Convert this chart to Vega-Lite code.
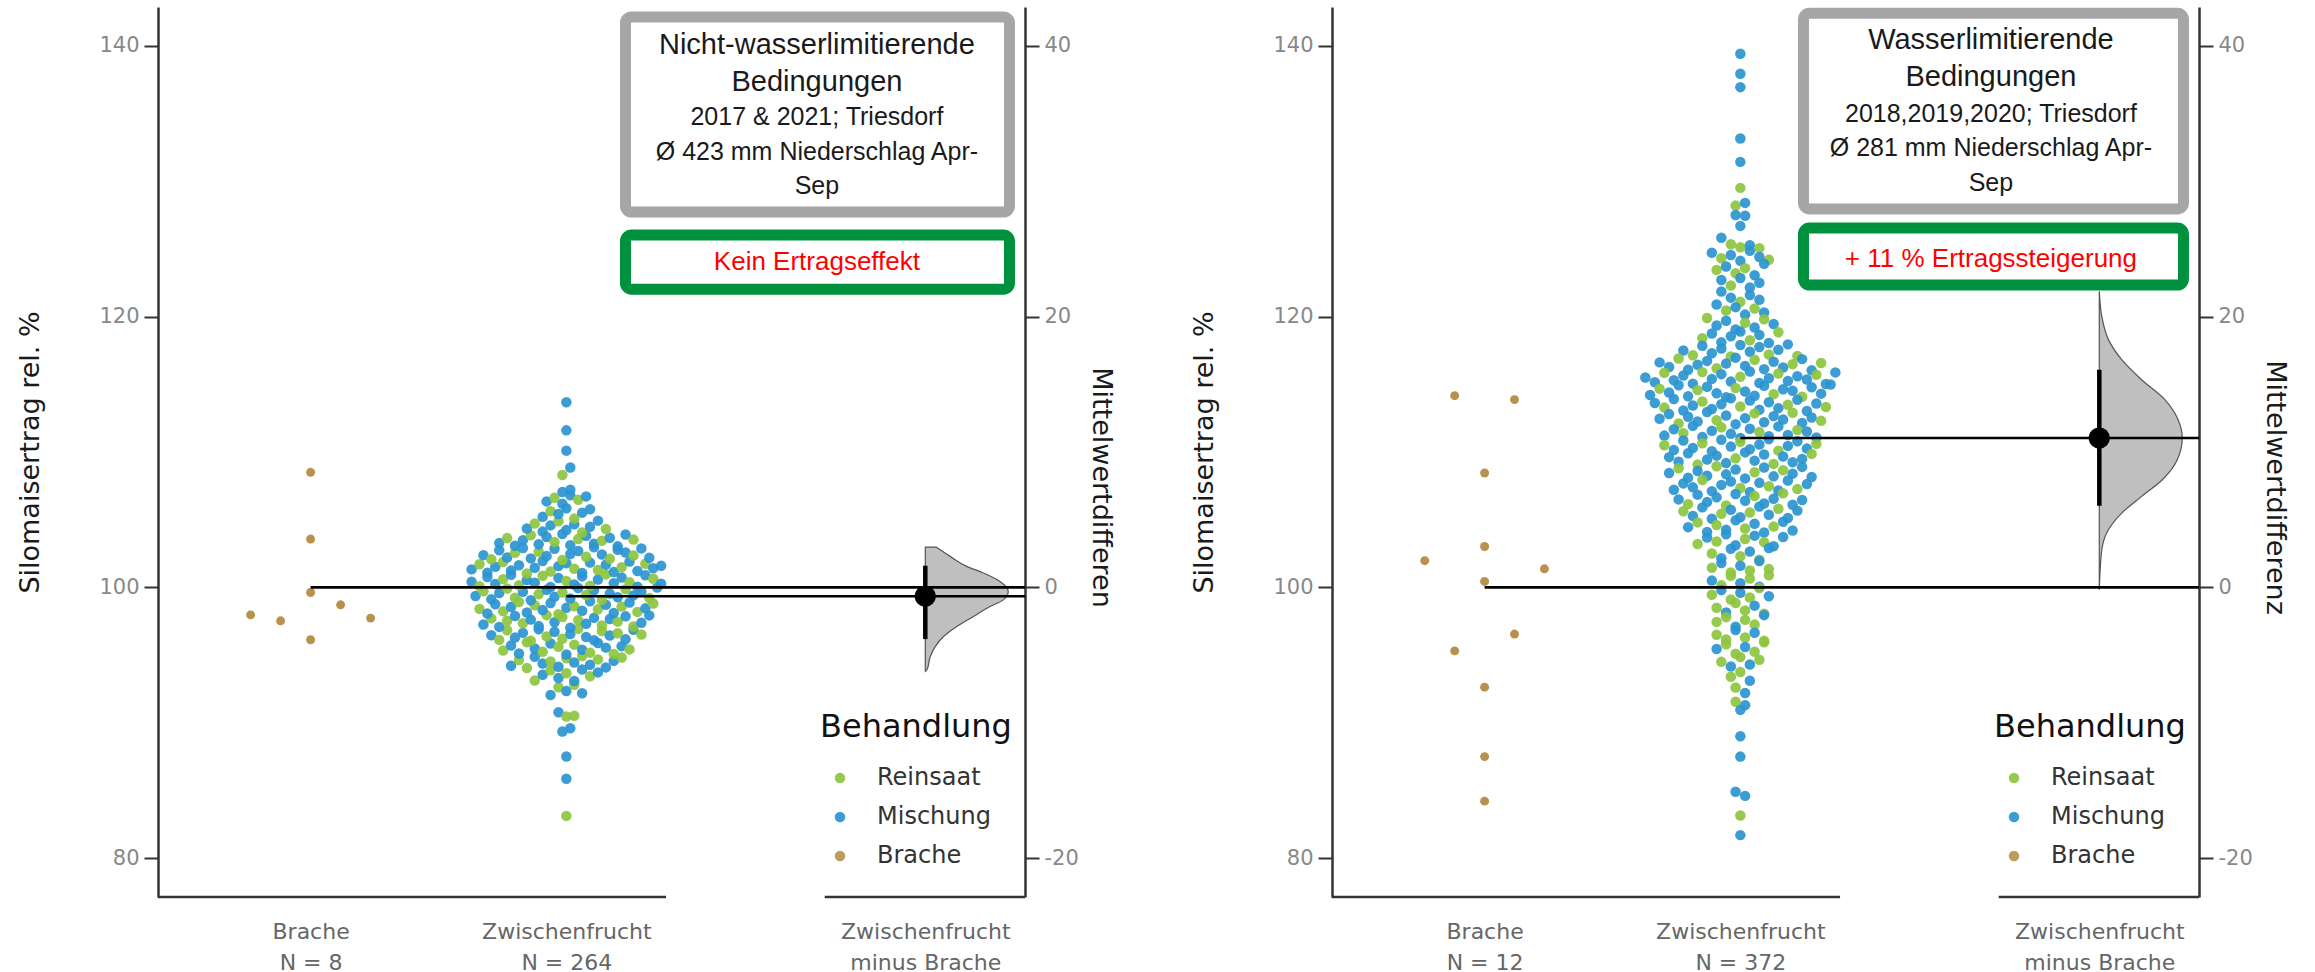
{
"$schema": "https://vega.github.io/schema/vega-lite/v6.json",
"padding": {"left": 16, "top": 7, "right": 20, "bottom": 0},
"background": "white",
"spacing": 75,
"config": {
 "view": {"stroke": null},
 "font": "DejaVu Sans",
 "axis": {"grid": false, "domainColor": "#333333", "domainWidth": 2.5, "tickColor": "#333333", "tickWidth": 2, "tickSize": 14, "labelColor": "#888888", "labelFont": "DejaVu Sans", "labelFontSize": 21, "titleFont": "DejaVu Sans", "titleFontSize": 27, "titleFontWeight": "normal", "titleColor": "#1a1a1a"},
 "axisLeft": {"labelPadding": 5, "titlePadding": 54},
 "axisRight": {"labelPadding": 5, "titlePadding": 8, "titleY": 480},
 "axisBottom": {"domain": false, "ticks": false, "labelColor": "#666666", "labelFontSize": 22, "labelLineHeight": 31, "labelPadding": 24, "labelFlush": false, "labelOverlap": false},
 "legend": {"titleFont": "DejaVu Sans", "titleFontSize": 32, "titleFontWeight": "normal", "titleColor": "#111111", "titlePadding": 22, "titleLimit": 500, "labelLimit": 400, "labelFont": "DejaVu Sans", "labelFontSize": 24, "labelColor": "#333333", "symbolType": "circle", "symbolSize": 110, "symbolStrokeWidth": 0, "symbolOffset": 8, "labelOffset": 25, "rowPadding": 15, "padding": 0}
},
"datasets": {
"kennwerte": [
 {"p": "L", "bmw": 99.97, "zmw": 99.33, "diff": -0.66, "ci_lo": -3.82, "ci_hi": 1.6, "titel": ["Nicht-wasserlimitierende", "Bedingungen"], "info": ["2017 & 2021; Triesdorf", "Ø 423 mm Niederschlag Apr-", "Sep"], "effekt": "Kein Ertragseffekt"},
 {"p": "R", "bmw": 99.96, "zmw": 110.99, "diff": 11.03, "ci_lo": 6.03, "ci_hi": 16.08, "titel": ["Wasserlimitierende", "Bedingungen"], "info": ["2018,2019,2020; Triesdorf", "Ø 281 mm Niederschlag Apr-", "Sep"], "effekt": "+ 11 % Ertragssteigerung"}
],
"dichte": [
 {"p": "L", "diff": -6.2, "d": 0.0}, {"p": "L", "diff": -6.09, "d": 0.02}, {"p": "L", "diff": -5.11, "d": 0.06}, {"p": "L", "diff": -4.37, "d": 0.12}, {"p": "L", "diff": -3.63, "d": 0.22}, {"p": "L", "diff": -2.89, "d": 0.38}, {"p": "L", "diff": -2.15, "d": 0.58}, {"p": "L", "diff": -1.41, "d": 0.78}, {"p": "L", "diff": -0.92, "d": 0.94}, {"p": "L", "diff": -0.3, "d": 1.0}, {"p": "L", "diff": 0.44, "d": 0.9}, {"p": "L", "diff": 1.06, "d": 0.7}, {"p": "L", "diff": 1.55, "d": 0.5}, {"p": "L", "diff": 2.29, "d": 0.3}, {"p": "L", "diff": 2.98, "d": 0.13},
 {"p": "R", "diff": -0.18, "d": 0.0}, {"p": "R", "diff": 2.78, "d": 0.03}, {"p": "R", "diff": 4.26, "d": 0.11}, {"p": "R", "diff": 5.49, "d": 0.27}, {"p": "R", "diff": 6.72, "d": 0.51}, {"p": "R", "diff": 7.95, "d": 0.76}, {"p": "R", "diff": 9.43, "d": 0.94}, {"p": "R", "diff": 11.03, "d": 1.0}, {"p": "R", "diff": 12.39, "d": 0.95}, {"p": "R", "diff": 13.87, "d": 0.79}, {"p": "R", "diff": 15.34, "d": 0.51}, {"p": "R", "diff": 16.82, "d": 0.27}, {"p": "R", "diff": 18.3, "d": 0.11}, {"p": "R", "diff": 20.02, "d": 0.03}, {"p": "R", "diff": 21.87, "d": 0.0}
],
"punkte": [
 {"p":"L","b":"Brache","y":96.13},{"p":"L","b":"Brache","y":97.97},{"p":"L","b":"Brache","y":97.53},{"p":"L","b":"Brache","y":99.62},{"p":"L","b":"Brache","y":98.71},{"p":"L","b":"Brache","y":97.73},{"p":"L","b":"Brache","y":103.57},{"p":"L","b":"Brache","y":108.5},
 {"p":"R","b":"Brache","y":114.16},{"p":"R","b":"Brache","y":113.87},{"p":"R","b":"Brache","y":108.45},{"p":"R","b":"Brache","y":103.02},{"p":"R","b":"Brache","y":101.97},{"p":"R","b":"Brache","y":100.44},{"p":"R","b":"Brache","y":101.37},{"p":"R","b":"Brache","y":95.31},{"p":"R","b":"Brache","y":96.55},{"p":"R","b":"Brache","y":92.63},{"p":"R","b":"Brache","y":87.5},{"p":"R","b":"Brache","y":84.21},
 {"p":"L","b":"Mischung","y":92.05},{"p":"L","b":"Reinsaat","y":92.62},{"p":"L","b":"Mischung","y":92.34},{"p":"L","b":"Reinsaat","y":92.81},{"p":"L","b":"Mischung","y":92.18},
 {"p":"L","b":"Reinsaat","y":93.12},{"p":"L","b":"Mischung","y":93.55},{"p":"L","b":"Reinsaat","y":93.87},{"p":"L","b":"Mischung","y":93.31},{"p":"L","b":"Reinsaat","y":93.66},{"p":"L","b":"Mischung","y":93.08},{"p":"L","b":"Mischung","y":93.93},{"p":"L","b":"Reinsaat","y":93.44},{"p":"L","b":"Mischung","y":93.72},
 {"p":"L","b":"Mischung","y":94.21},{"p":"L","b":"Reinsaat","y":94.63},{"p":"L","b":"Reinsaat","y":94.05},{"p":"L","b":"Mischung","y":94.88},{"p":"L","b":"Mischung","y":94.37},{"p":"L","b":"Reinsaat","y":94.52},{"p":"L","b":"Mischung","y":94.14},{"p":"L","b":"Reinsaat","y":94.76},{"p":"L","b":"Mischung","y":94.45},{"p":"L","b":"Reinsaat","y":94.93},{"p":"L","b":"Mischung","y":94.29},{"p":"L","b":"Reinsaat","y":94.68},{"p":"L","b":"Mischung","y":94.09},{"p":"L","b":"Mischung","y":94.57},{"p":"L","b":"Reinsaat","y":94.82},
 {"p":"L","b":"Reinsaat","y":95.33},{"p":"L","b":"Mischung","y":95.71},{"p":"L","b":"Mischung","y":95.12},{"p":"L","b":"Reinsaat","y":95.94},{"p":"L","b":"Mischung","y":95.48},{"p":"L","b":"Reinsaat","y":95.25},{"p":"L","b":"Mischung","y":95.86},{"p":"L","b":"Reinsaat","y":95.61},{"p":"L","b":"Mischung","y":95.04},{"p":"L","b":"Reinsaat","y":95.77},{"p":"L","b":"Mischung","y":95.39},{"p":"L","b":"Reinsaat","y":95.18},{"p":"L","b":"Mischung","y":95.89},{"p":"L","b":"Mischung","y":95.55},{"p":"L","b":"Reinsaat","y":95.08},{"p":"L","b":"Mischung","y":95.66},{"p":"L","b":"Reinsaat","y":95.42},
 {"p":"L","b":"Mischung","y":96.47},{"p":"L","b":"Reinsaat","y":96.12},{"p":"L","b":"Reinsaat","y":96.83},{"p":"L","b":"Mischung","y":96.29},{"p":"L","b":"Mischung","y":96.64},{"p":"L","b":"Reinsaat","y":96.05},{"p":"L","b":"Mischung","y":96.91},{"p":"L","b":"Reinsaat","y":96.38},{"p":"L","b":"Mischung","y":96.72},{"p":"L","b":"Reinsaat","y":96.21},{"p":"L","b":"Mischung","y":96.56},{"p":"L","b":"Reinsaat","y":96.95},{"p":"L","b":"Mischung","y":96.33},{"p":"L","b":"Mischung","y":96.09},{"p":"L","b":"Reinsaat","y":96.78},{"p":"L","b":"Mischung","y":96.44},{"p":"L","b":"Reinsaat","y":96.61},{"p":"L","b":"Mischung","y":96.16},{"p":"L","b":"Mischung","y":96.87},{"p":"L","b":"Reinsaat","y":96.52},
 {"p":"L","b":"Mischung","y":97.26},{"p":"L","b":"Reinsaat","y":97.71},{"p":"L","b":"Mischung","y":97.08},{"p":"L","b":"Reinsaat","y":97.53},{"p":"L","b":"Mischung","y":97.89},{"p":"L","b":"Reinsaat","y":97.35},{"p":"L","b":"Mischung","y":97.62},{"p":"L","b":"Mischung","y":97.14},{"p":"L","b":"Reinsaat","y":97.95},{"p":"L","b":"Mischung","y":97.43},{"p":"L","b":"Reinsaat","y":97.81},{"p":"L","b":"Mischung","y":97.02},{"p":"L","b":"Reinsaat","y":97.58},{"p":"L","b":"Mischung","y":97.31},{"p":"L","b":"Mischung","y":97.75},{"p":"L","b":"Reinsaat","y":97.19},{"p":"L","b":"Mischung","y":97.67},{"p":"L","b":"Reinsaat","y":97.47},{"p":"L","b":"Mischung","y":97.86},{"p":"L","b":"Reinsaat","y":97.11},{"p":"L","b":"Mischung","y":97.39},{"p":"L","b":"Mischung","y":97.93},
 {"p":"L","b":"Reinsaat","y":98.41},{"p":"L","b":"Mischung","y":98.07},{"p":"L","b":"Mischung","y":98.76},{"p":"L","b":"Reinsaat","y":98.23},{"p":"L","b":"Mischung","y":98.55},{"p":"L","b":"Reinsaat","y":98.92},{"p":"L","b":"Mischung","y":98.14},{"p":"L","b":"Reinsaat","y":98.68},{"p":"L","b":"Mischung","y":98.33},{"p":"L","b":"Mischung","y":98.84},{"p":"L","b":"Reinsaat","y":98.02},{"p":"L","b":"Mischung","y":98.49},{"p":"L","b":"Reinsaat","y":98.61},{"p":"L","b":"Mischung","y":98.27},{"p":"L","b":"Mischung","y":98.97},{"p":"L","b":"Reinsaat","y":98.38},{"p":"L","b":"Mischung","y":98.72},{"p":"L","b":"Mischung","y":98.11},{"p":"L","b":"Reinsaat","y":98.58},{"p":"L","b":"Mischung","y":98.88},{"p":"L","b":"Reinsaat","y":98.19},{"p":"L","b":"Mischung","y":98.45},{"p":"L","b":"Reinsaat","y":98.81},
 {"p":"L","b":"Mischung","y":99.36},{"p":"L","b":"Reinsaat","y":99.72},{"p":"L","b":"Mischung","y":99.13},{"p":"L","b":"Mischung","y":99.58},{"p":"L","b":"Reinsaat","y":99.91},{"p":"L","b":"Reinsaat","y":99.24},{"p":"L","b":"Mischung","y":99.67},{"p":"L","b":"Mischung","y":99.05},{"p":"L","b":"Reinsaat","y":99.49},{"p":"L","b":"Mischung","y":99.83},{"p":"L","b":"Mischung","y":99.31},{"p":"L","b":"Reinsaat","y":99.62},{"p":"L","b":"Mischung","y":99.17},{"p":"L","b":"Mischung","y":99.95},{"p":"L","b":"Reinsaat","y":99.44},{"p":"L","b":"Mischung","y":99.78},{"p":"L","b":"Reinsaat","y":99.09},{"p":"L","b":"Mischung","y":99.54},{"p":"L","b":"Mischung","y":99.27},{"p":"L","b":"Reinsaat","y":99.86},{"p":"L","b":"Mischung","y":99.41},{"p":"L","b":"Mischung","y":99.69},{"p":"L","b":"Reinsaat","y":99.21},{"p":"L","b":"Mischung","y":99.99},
 {"p":"L","b":"Mischung","y":100.42},{"p":"L","b":"Reinsaat","y":100.08},{"p":"L","b":"Mischung","y":100.77},{"p":"L","b":"Mischung","y":100.25},{"p":"L","b":"Reinsaat","y":100.61},{"p":"L","b":"Mischung","y":100.93},{"p":"L","b":"Reinsaat","y":100.15},{"p":"L","b":"Mischung","y":100.54},{"p":"L","b":"Mischung","y":100.35},{"p":"L","b":"Reinsaat","y":100.86},{"p":"L","b":"Mischung","y":100.03},{"p":"L","b":"Mischung","y":100.69},{"p":"L","b":"Reinsaat","y":100.47},{"p":"L","b":"Mischung","y":100.21},{"p":"L","b":"Mischung","y":100.81},{"p":"L","b":"Reinsaat","y":100.12},{"p":"L","b":"Mischung","y":100.58},{"p":"L","b":"Reinsaat","y":100.96},{"p":"L","b":"Mischung","y":100.31},{"p":"L","b":"Mischung","y":100.73},{"p":"L","b":"Reinsaat","y":100.38},{"p":"L","b":"Mischung","y":100.05},{"p":"L","b":"Mischung","y":100.89},{"p":"L","b":"Reinsaat","y":100.64},{"p":"L","b":"Mischung","y":100.27},
 {"p":"L","b":"Mischung","y":101.33},{"p":"L","b":"Reinsaat","y":101.71},{"p":"L","b":"Mischung","y":101.09},{"p":"L","b":"Mischung","y":101.52},{"p":"L","b":"Reinsaat","y":101.88},{"p":"L","b":"Mischung","y":101.24},{"p":"L","b":"Mischung","y":101.63},{"p":"L","b":"Reinsaat","y":101.02},{"p":"L","b":"Mischung","y":101.45},{"p":"L","b":"Mischung","y":101.94},{"p":"L","b":"Reinsaat","y":101.17},{"p":"L","b":"Mischung","y":101.57},{"p":"L","b":"Mischung","y":101.79},{"p":"L","b":"Reinsaat","y":101.38},{"p":"L","b":"Mischung","y":101.06},{"p":"L","b":"Mischung","y":101.83},{"p":"L","b":"Reinsaat","y":101.29},{"p":"L","b":"Mischung","y":101.68},{"p":"L","b":"Mischung","y":101.13},{"p":"L","b":"Reinsaat","y":101.49},{"p":"L","b":"Mischung","y":101.91},{"p":"L","b":"Mischung","y":101.21},{"p":"L","b":"Reinsaat","y":101.74},{"p":"L","b":"Mischung","y":101.41},{"p":"L","b":"Mischung","y":101.59},
 {"p":"L","b":"Mischung","y":102.38},{"p":"L","b":"Reinsaat","y":102.07},{"p":"L","b":"Mischung","y":102.74},{"p":"L","b":"Mischung","y":102.21},{"p":"L","b":"Reinsaat","y":102.55},{"p":"L","b":"Mischung","y":102.91},{"p":"L","b":"Mischung","y":102.14},{"p":"L","b":"Reinsaat","y":102.63},{"p":"L","b":"Mischung","y":102.32},{"p":"L","b":"Mischung","y":102.85},{"p":"L","b":"Reinsaat","y":102.02},{"p":"L","b":"Mischung","y":102.47},{"p":"L","b":"Mischung","y":102.69},{"p":"L","b":"Reinsaat","y":102.26},{"p":"L","b":"Mischung","y":102.96},{"p":"L","b":"Mischung","y":102.43},{"p":"L","b":"Reinsaat","y":102.11},{"p":"L","b":"Mischung","y":102.78},{"p":"L","b":"Mischung","y":102.58},{"p":"L","b":"Reinsaat","y":102.35},{"p":"L","b":"Mischung","y":102.88},{"p":"L","b":"Mischung","y":102.18},
 {"p":"L","b":"Mischung","y":103.27},{"p":"L","b":"Reinsaat","y":103.64},{"p":"L","b":"Mischung","y":103.08},{"p":"L","b":"Mischung","y":103.49},{"p":"L","b":"Reinsaat","y":103.85},{"p":"L","b":"Mischung","y":103.18},{"p":"L","b":"Mischung","y":103.72},{"p":"L","b":"Reinsaat","y":103.36},{"p":"L","b":"Mischung","y":103.94},{"p":"L","b":"Mischung","y":103.12},{"p":"L","b":"Reinsaat","y":103.57},{"p":"L","b":"Mischung","y":103.81},{"p":"L","b":"Mischung","y":103.23},{"p":"L","b":"Reinsaat","y":103.44},{"p":"L","b":"Mischung","y":103.67},{"p":"L","b":"Mischung","y":103.03},{"p":"L","b":"Mischung","y":103.91},{"p":"L","b":"Reinsaat","y":103.53},
 {"p":"L","b":"Mischung","y":104.35},{"p":"L","b":"Reinsaat","y":104.72},{"p":"L","b":"Mischung","y":104.12},{"p":"L","b":"Mischung","y":104.58},{"p":"L","b":"Reinsaat","y":104.88},{"p":"L","b":"Mischung","y":104.24},{"p":"L","b":"Mischung","y":104.66},{"p":"L","b":"Reinsaat","y":104.05},{"p":"L","b":"Mischung","y":104.47},{"p":"L","b":"Mischung","y":104.93},{"p":"L","b":"Reinsaat","y":104.31},
 {"p":"L","b":"Mischung","y":105.21},{"p":"L","b":"Reinsaat","y":105.63},{"p":"L","b":"Mischung","y":105.42},{"p":"L","b":"Mischung","y":105.85},{"p":"L","b":"Reinsaat","y":105.08},{"p":"L","b":"Mischung","y":105.52},{"p":"L","b":"Mischung","y":105.77},
 {"p":"L","b":"Mischung","y":106.35},{"p":"L","b":"Reinsaat","y":106.62},{"p":"L","b":"Mischung","y":106.18},{"p":"L","b":"Mischung","y":106.81},{"p":"L","b":"Reinsaat","y":106.47},{"p":"L","b":"Mischung","y":106.72},
 {"p":"L","b":"Mischung","y":107.05},{"p":"L","b":"Mischung","y":107.22},
 {"p":"L","b":"Reinsaat","y":108.3},{"p":"L","b":"Mischung","y":108.86},{"p":"L","b":"Mischung","y":110.1},{"p":"L","b":"Mischung","y":111.6},{"p":"L","b":"Mischung","y":113.67},
 {"p":"L","b":"Reinsaat","y":83.12},{"p":"L","b":"Mischung","y":85.86},{"p":"L","b":"Mischung","y":87.51},{"p":"L","b":"Mischung","y":89.36},{"p":"L","b":"Mischung","y":89.6},{"p":"L","b":"Mischung","y":90.78},{"p":"L","b":"Reinsaat","y":90.46},{"p":"L","b":"Reinsaat","y":90.52},
 {"p":"R","b":"Mischung","y":139.42},{"p":"R","b":"Mischung","y":137.94},{"p":"R","b":"Mischung","y":136.95},{"p":"R","b":"Mischung","y":133.16},{"p":"R","b":"Mischung","y":131.43},{"p":"R","b":"Reinsaat","y":129.51},{"p":"R","b":"Reinsaat","y":128.2},{"p":"R","b":"Mischung","y":128.4},{"p":"R","b":"Mischung","y":127.5},{"p":"R","b":"Mischung","y":127.45},{"p":"R","b":"Mischung","y":126.7},
 {"p":"R","b":"Mischung","y":125.82},{"p":"R","b":"Reinsaat","y":125.35},{"p":"R","b":"Reinsaat","y":125.12},{"p":"R","b":"Mischung","y":125.28},{"p":"R","b":"Reinsaat","y":125.05},
 {"p":"R","b":"Mischung","y":124.72},{"p":"R","b":"Reinsaat","y":124.31},{"p":"R","b":"Mischung","y":124.55},{"p":"R","b":"Mischung","y":124.12},{"p":"R","b":"Mischung","y":124.86},{"p":"R","b":"Mischung","y":124.4},{"p":"R","b":"Reinsaat","y":124.2},
 {"p":"R","b":"Reinsaat","y":123.45},{"p":"R","b":"Mischung","y":123.7},{"p":"R","b":"Reinsaat","y":123.2},{"p":"R","b":"Reinsaat","y":123.58},{"p":"R","b":"Mischung","y":123.05},{"p":"R","b":"Mischung","y":123.9},
 {"p":"R","b":"Mischung","y":122.7},{"p":"R","b":"Reinsaat","y":122.3},{"p":"R","b":"Mischung","y":122.85},{"p":"R","b":"Mischung","y":122.15},{"p":"R","b":"Mischung","y":122.5},
 {"p":"R","b":"Mischung","y":121.85},{"p":"R","b":"Mischung","y":121.4},{"p":"R","b":"Reinsaat","y":121.1},{"p":"R","b":"Mischung","y":121.6},{"p":"R","b":"Mischung","y":121.25},
 {"p":"R","b":"Mischung","y":120.9},{"p":"R","b":"Reinsaat","y":120.45},{"p":"R","b":"Mischung","y":120.7},{"p":"R","b":"Mischung","y":120.15},{"p":"R","b":"Reinsaat","y":120.6},{"p":"R","b":"Mischung","y":120.3},
 {"p":"R","b":"Reinsaat","y":119.9},{"p":"R","b":"Mischung","y":119.35},{"p":"R","b":"Mischung","y":119.7},{"p":"R","b":"Mischung","y":119.05},{"p":"R","b":"Reinsaat","y":119.55},{"p":"R","b":"Mischung","y":119.2},{"p":"R","b":"Reinsaat","y":119.8},{"p":"R","b":"Mischung","y":119.45},
 {"p":"R","b":"Reinsaat","y":118.4},{"p":"R","b":"Mischung","y":118.75},{"p":"R","b":"Mischung","y":118.1},{"p":"R","b":"Mischung","y":118.55},{"p":"R","b":"Mischung","y":118.9},{"p":"R","b":"Reinsaat","y":118.25},{"p":"R","b":"Mischung","y":118.65},{"p":"R","b":"Mischung","y":118.05},{"p":"R","b":"Reinsaat","y":118.85},
 {"p":"R","b":"Mischung","y":117.5},{"p":"R","b":"Reinsaat","y":117.15},{"p":"R","b":"Mischung","y":117.85},{"p":"R","b":"Mischung","y":117.3},{"p":"R","b":"Mischung","y":117.65},{"p":"R","b":"Reinsaat","y":117.05},{"p":"R","b":"Mischung","y":117.9},{"p":"R","b":"Mischung","y":117.4},{"p":"R","b":"Mischung","y":117.75},{"p":"R","b":"Reinsaat","y":117.2},{"p":"R","b":"Mischung","y":117.55},{"p":"R","b":"Mischung","y":117.95},{"p":"R","b":"Reinsaat","y":117.1},
 {"p":"R","b":"Mischung","y":116.62},{"p":"R","b":"Mischung","y":116.28},{"p":"R","b":"Reinsaat","y":116.91},{"p":"R","b":"Mischung","y":116.07},{"p":"R","b":"Mischung","y":116.44},{"p":"R","b":"Mischung","y":116.73},{"p":"R","b":"Reinsaat","y":116.18},{"p":"R","b":"Mischung","y":116.53},{"p":"R","b":"Mischung","y":116.97},{"p":"R","b":"Mischung","y":116.36},{"p":"R","b":"Reinsaat","y":116.81},{"p":"R","b":"Mischung","y":116.12},{"p":"R","b":"Mischung","y":116.67},{"p":"R","b":"Mischung","y":116.24},{"p":"R","b":"Reinsaat","y":116.49},{"p":"R","b":"Mischung","y":116.86},{"p":"R","b":"Mischung","y":116.03},{"p":"R","b":"Reinsaat","y":116.58},
 {"p":"R","b":"Mischung","y":115.5},{"p":"R","b":"Mischung","y":115.15},{"p":"R","b":"Reinsaat","y":115.85},{"p":"R","b":"Mischung","y":115.3},{"p":"R","b":"Mischung","y":115.65},{"p":"R","b":"Mischung","y":115.05},{"p":"R","b":"Reinsaat","y":115.9},{"p":"R","b":"Mischung","y":115.4},{"p":"R","b":"Mischung","y":115.75},{"p":"R","b":"Mischung","y":115.2},{"p":"R","b":"Reinsaat","y":115.55},{"p":"R","b":"Mischung","y":115.95},{"p":"R","b":"Mischung","y":115.1},{"p":"R","b":"Mischung","y":115.45},{"p":"R","b":"Reinsaat","y":115.8},{"p":"R","b":"Mischung","y":115.25},{"p":"R","b":"Mischung","y":115.6},{"p":"R","b":"Mischung","y":115.35},{"p":"R","b":"Reinsaat","y":115.7},{"p":"R","b":"Mischung","y":115.02},{"p":"R","b":"Mischung","y":115.88},
 {"p":"R","b":"Mischung","y":114.21},{"p":"R","b":"Reinsaat","y":114.68},{"p":"R","b":"Mischung","y":114.39},{"p":"R","b":"Mischung","y":114.93},{"p":"R","b":"Mischung","y":114.11},{"p":"R","b":"Reinsaat","y":114.57},{"p":"R","b":"Mischung","y":114.82},{"p":"R","b":"Mischung","y":114.34},{"p":"R","b":"Mischung","y":114.04},{"p":"R","b":"Reinsaat","y":114.72},{"p":"R","b":"Mischung","y":114.47},{"p":"R","b":"Mischung","y":114.16},{"p":"R","b":"Mischung","y":114.89},{"p":"R","b":"Reinsaat","y":114.26},{"p":"R","b":"Mischung","y":114.63},{"p":"R","b":"Mischung","y":114.52},{"p":"R","b":"Reinsaat","y":114.08},{"p":"R","b":"Mischung","y":114.78},{"p":"R","b":"Mischung","y":114.31},{"p":"R","b":"Mischung","y":114.98},
 {"p":"R","b":"Mischung","y":113.62},{"p":"R","b":"Reinsaat","y":113.28},{"p":"R","b":"Mischung","y":113.91},{"p":"R","b":"Mischung","y":113.07},{"p":"R","b":"Mischung","y":113.44},{"p":"R","b":"Reinsaat","y":113.73},{"p":"R","b":"Mischung","y":113.18},{"p":"R","b":"Mischung","y":113.53},{"p":"R","b":"Mischung","y":113.97},{"p":"R","b":"Reinsaat","y":113.36},{"p":"R","b":"Mischung","y":113.81},{"p":"R","b":"Mischung","y":113.12},{"p":"R","b":"Mischung","y":113.67},{"p":"R","b":"Mischung","y":113.24},{"p":"R","b":"Reinsaat","y":113.49},{"p":"R","b":"Mischung","y":113.86},{"p":"R","b":"Mischung","y":113.03},{"p":"R","b":"Mischung","y":113.58},{"p":"R","b":"Reinsaat","y":113.33},
 {"p":"R","b":"Mischung","y":112.45},{"p":"R","b":"Mischung","y":112.8},{"p":"R","b":"Reinsaat","y":112.1},{"p":"R","b":"Mischung","y":112.6},{"p":"R","b":"Mischung","y":112.25},{"p":"R","b":"Mischung","y":112.95},{"p":"R","b":"Reinsaat","y":112.35},{"p":"R","b":"Mischung","y":112.7},{"p":"R","b":"Mischung","y":112.05},{"p":"R","b":"Mischung","y":112.5},{"p":"R","b":"Reinsaat","y":112.85},{"p":"R","b":"Mischung","y":112.2},{"p":"R","b":"Mischung","y":112.65},{"p":"R","b":"Mischung","y":112.4},{"p":"R","b":"Reinsaat","y":112.9},{"p":"R","b":"Mischung","y":112.15},{"p":"R","b":"Mischung","y":112.55},{"p":"R","b":"Reinsaat","y":112.3},
 {"p":"R","b":"Mischung","y":111.21},{"p":"R","b":"Mischung","y":111.68},{"p":"R","b":"Reinsaat","y":111.39},{"p":"R","b":"Mischung","y":111.93},{"p":"R","b":"Mischung","y":111.11},{"p":"R","b":"Mischung","y":111.57},{"p":"R","b":"Reinsaat","y":111.82},{"p":"R","b":"Mischung","y":111.34},{"p":"R","b":"Mischung","y":111.04},{"p":"R","b":"Mischung","y":111.72},{"p":"R","b":"Reinsaat","y":111.47},{"p":"R","b":"Mischung","y":111.16},{"p":"R","b":"Mischung","y":111.89},{"p":"R","b":"Mischung","y":111.26},{"p":"R","b":"Reinsaat","y":111.63},{"p":"R","b":"Mischung","y":111.52},{"p":"R","b":"Mischung","y":111.08},
 {"p":"R","b":"Reinsaat","y":110.5},{"p":"R","b":"Mischung","y":110.15},{"p":"R","b":"Mischung","y":110.85},{"p":"R","b":"Mischung","y":110.3},{"p":"R","b":"Reinsaat","y":110.65},{"p":"R","b":"Mischung","y":110.05},{"p":"R","b":"Mischung","y":110.9},{"p":"R","b":"Mischung","y":110.4},{"p":"R","b":"Reinsaat","y":110.75},{"p":"R","b":"Mischung","y":110.2},{"p":"R","b":"Mischung","y":110.55},{"p":"R","b":"Mischung","y":110.95},{"p":"R","b":"Reinsaat","y":110.1},{"p":"R","b":"Mischung","y":110.45},{"p":"R","b":"Mischung","y":110.8},{"p":"R","b":"Mischung","y":110.25},{"p":"R","b":"Reinsaat","y":110.6},
 {"p":"R","b":"Mischung","y":109.62},{"p":"R","b":"Mischung","y":109.28},{"p":"R","b":"Mischung","y":109.91},{"p":"R","b":"Reinsaat","y":109.07},{"p":"R","b":"Mischung","y":109.44},{"p":"R","b":"Mischung","y":109.73},{"p":"R","b":"Mischung","y":109.18},{"p":"R","b":"Reinsaat","y":109.53},{"p":"R","b":"Mischung","y":109.97},{"p":"R","b":"Mischung","y":109.36},{"p":"R","b":"Mischung","y":109.81},{"p":"R","b":"Reinsaat","y":109.12},{"p":"R","b":"Mischung","y":109.67},{"p":"R","b":"Mischung","y":109.24},{"p":"R","b":"Mischung","y":109.49},{"p":"R","b":"Reinsaat","y":109.86},
 {"p":"R","b":"Mischung","y":108.45},{"p":"R","b":"Reinsaat","y":108.8},{"p":"R","b":"Mischung","y":108.1},{"p":"R","b":"Mischung","y":108.6},{"p":"R","b":"Mischung","y":108.25},{"p":"R","b":"Reinsaat","y":108.95},{"p":"R","b":"Mischung","y":108.35},{"p":"R","b":"Mischung","y":108.7},{"p":"R","b":"Mischung","y":108.05},{"p":"R","b":"Reinsaat","y":108.5},{"p":"R","b":"Mischung","y":108.85},{"p":"R","b":"Mischung","y":108.2},{"p":"R","b":"Reinsaat","y":108.65},{"p":"R","b":"Mischung","y":108.4},{"p":"R","b":"Mischung","y":108.9},{"p":"R","b":"Mischung","y":108.15},
 {"p":"R","b":"Mischung","y":107.21},{"p":"R","b":"Mischung","y":107.68},{"p":"R","b":"Mischung","y":107.39},{"p":"R","b":"Reinsaat","y":107.93},{"p":"R","b":"Mischung","y":107.11},{"p":"R","b":"Mischung","y":107.57},{"p":"R","b":"Mischung","y":107.82},{"p":"R","b":"Reinsaat","y":107.34},{"p":"R","b":"Mischung","y":107.04},{"p":"R","b":"Mischung","y":107.72},{"p":"R","b":"Reinsaat","y":107.47},{"p":"R","b":"Mischung","y":107.16},{"p":"R","b":"Mischung","y":107.89},{"p":"R","b":"Reinsaat","y":107.26},{"p":"R","b":"Mischung","y":107.63},
 {"p":"R","b":"Mischung","y":106.5},{"p":"R","b":"Reinsaat","y":106.15},{"p":"R","b":"Mischung","y":106.85},{"p":"R","b":"Mischung","y":106.3},{"p":"R","b":"Mischung","y":106.65},{"p":"R","b":"Reinsaat","y":106.05},{"p":"R","b":"Mischung","y":106.9},{"p":"R","b":"Mischung","y":106.4},{"p":"R","b":"Reinsaat","y":106.75},{"p":"R","b":"Mischung","y":106.2},{"p":"R","b":"Mischung","y":106.55},{"p":"R","b":"Reinsaat","y":106.95},{"p":"R","b":"Mischung","y":106.1},{"p":"R","b":"Mischung","y":106.45},
 {"p":"R","b":"Reinsaat","y":105.62},{"p":"R","b":"Mischung","y":105.28},{"p":"R","b":"Mischung","y":105.91},{"p":"R","b":"Mischung","y":105.07},{"p":"R","b":"Reinsaat","y":105.44},{"p":"R","b":"Mischung","y":105.73},{"p":"R","b":"Mischung","y":105.18},{"p":"R","b":"Reinsaat","y":105.53},{"p":"R","b":"Mischung","y":105.97},{"p":"R","b":"Mischung","y":105.36},{"p":"R","b":"Reinsaat","y":105.81},{"p":"R","b":"Mischung","y":105.12},{"p":"R","b":"Mischung","y":105.67},
 {"p":"R","b":"Mischung","y":104.45},{"p":"R","b":"Reinsaat","y":104.8},{"p":"R","b":"Mischung","y":104.1},{"p":"R","b":"Reinsaat","y":104.6},{"p":"R","b":"Mischung","y":104.25},{"p":"R","b":"Mischung","y":104.95},{"p":"R","b":"Reinsaat","y":104.35},{"p":"R","b":"Mischung","y":104.7},{"p":"R","b":"Mischung","y":104.05},{"p":"R","b":"Reinsaat","y":104.5},{"p":"R","b":"Mischung","y":104.85},{"p":"R","b":"Mischung","y":104.2},
 {"p":"R","b":"Reinsaat","y":103.21},{"p":"R","b":"Mischung","y":103.68},{"p":"R","b":"Reinsaat","y":103.39},{"p":"R","b":"Mischung","y":103.93},{"p":"R","b":"Mischung","y":103.11},{"p":"R","b":"Reinsaat","y":103.57},{"p":"R","b":"Mischung","y":103.82},{"p":"R","b":"Reinsaat","y":103.34},{"p":"R","b":"Mischung","y":103.04},{"p":"R","b":"Mischung","y":103.72},
 {"p":"R","b":"Reinsaat","y":102.5},{"p":"R","b":"Mischung","y":102.15},{"p":"R","b":"Mischung","y":102.85},{"p":"R","b":"Reinsaat","y":102.3},{"p":"R","b":"Mischung","y":102.65},{"p":"R","b":"Reinsaat","y":102.05},{"p":"R","b":"Mischung","y":102.9},
 {"p":"R","b":"Reinsaat","y":101.45},{"p":"R","b":"Mischung","y":101.8},{"p":"R","b":"Reinsaat","y":101.1},{"p":"R","b":"Mischung","y":101.6},{"p":"R","b":"Reinsaat","y":101.25},{"p":"R","b":"Mischung","y":101.95},{"p":"R","b":"Reinsaat","y":101.35},
 {"p":"R","b":"Mischung","y":100.5},{"p":"R","b":"Reinsaat","y":100.15},{"p":"R","b":"Reinsaat","y":100.85},{"p":"R","b":"Mischung","y":100.3},{"p":"R","b":"Reinsaat","y":100.65},{"p":"R","b":"Mischung","y":100.05},{"p":"R","b":"Reinsaat","y":100.9},
 {"p":"R","b":"Reinsaat","y":99.45},{"p":"R","b":"Mischung","y":99.8},{"p":"R","b":"Reinsaat","y":99.1},{"p":"R","b":"Mischung","y":99.6},{"p":"R","b":"Reinsaat","y":99.25},{"p":"R","b":"Reinsaat","y":99.95},{"p":"R","b":"Mischung","y":99.35},
 {"p":"R","b":"Reinsaat","y":98.5},{"p":"R","b":"Mischung","y":98.15},{"p":"R","b":"Reinsaat","y":98.85},{"p":"R","b":"Reinsaat","y":98.3},{"p":"R","b":"Mischung","y":98.65},{"p":"R","b":"Reinsaat","y":98.05},
 {"p":"R","b":"Reinsaat","y":97.45},{"p":"R","b":"Reinsaat","y":97.8},{"p":"R","b":"Mischung","y":97.1},{"p":"R","b":"Reinsaat","y":97.6},{"p":"R","b":"Reinsaat","y":97.25},{"p":"R","b":"Mischung","y":97.95},
 {"p":"R","b":"Reinsaat","y":96.5},{"p":"R","b":"Reinsaat","y":96.15},{"p":"R","b":"Mischung","y":96.85},{"p":"R","b":"Reinsaat","y":96.3},{"p":"R","b":"Mischung","y":96.65},{"p":"R","b":"Reinsaat","y":96.05},
 {"p":"R","b":"Mischung","y":95.45},{"p":"R","b":"Reinsaat","y":95.8},{"p":"R","b":"Reinsaat","y":95.1},{"p":"R","b":"Mischung","y":95.6},{"p":"R","b":"Reinsaat","y":95.25},{"p":"R","b":"Reinsaat","y":95.95},
 {"p":"R","b":"Reinsaat","y":94.5},{"p":"R","b":"Mischung","y":94.15},{"p":"R","b":"Reinsaat","y":94.85},{"p":"R","b":"Mischung","y":94.3},{"p":"R","b":"Reinsaat","y":94.65},
 {"p":"R","b":"Reinsaat","y":93.4},{"p":"R","b":"Reinsaat","y":93.75},{"p":"R","b":"Mischung","y":93.1},
 {"p":"R","b":"Reinsaat","y":92.6},{"p":"R","b":"Mischung","y":92.2},
 {"p":"R","b":"Reinsaat","y":91.55},{"p":"R","b":"Mischung","y":91.3},
 {"p":"R","b":"Mischung","y":90.95},
 {"p":"R","b":"Mischung","y":89.0},{"p":"R","b":"Mischung","y":87.5},{"p":"R","b":"Mischung","y":84.9},{"p":"R","b":"Mischung","y":84.6},{"p":"R","b":"Reinsaat","y":83.15},{"p":"R","b":"Mischung","y":81.7}
]
},
"hconcat": [
 {
  "width": 867, "height": 890,
  "resolve": {"scale": {"y": "independent"}},
  "layer": [
   {"layer": [
    {"data": {"name": "punkte"},
     "transform": [
      {"filter": "datum.p == 'L' && datum.b != 'Brache'"},
      {"bin": {"step": 1, "extent": [76, 146], "nice": false}, "field": "y", "as": "zeile"},
      {"window": [{"op": "row_number", "as": "rn"}], "groupby": ["zeile"]},
      {"joinaggregate": [{"op": "count", "as": "n"}], "groupby": ["zeile"]},
      {"calculate": "47.1 + (datum.rn - (datum.n + 1) / 2) * 0.911", "as": "xs"}
     ],
     "mark": {"type": "circle", "size": 110, "opacity": 0.92},
     "encoding": {
      "x": {"field": "xs", "type": "quantitative", "title": null, "scale": {"domain": [0, 100], "nice": false, "zero": false}, "axis": {"orient": "bottom", "values": [17.6, 47.1, 88.5], "labelExpr": "datum.value < 30 ? ['Brache', 'N = 8'] : datum.value < 60 ? ['Zwischenfrucht', 'N = 264'] : ['Zwischenfrucht', 'minus Brache']"}},
      "y": {"field": "y", "type": "quantitative", "title": "Silomaisertrag rel. %", "scale": {"domain": [77.13, 142.87], "nice": false, "zero": false}, "axis": {"orient": "left", "values": [80, 100, 120, 140]}},
      "color": {"field": "b", "type": "nominal", "title": "Behandlung", "scale": {"domain": ["Reinsaat", "Mischung", "Brache"], "range": ["#8DC63F", "#2B95D0", "#B9914F"]}, "legend": {"orient": "none", "legendX": 662, "legendY": 705}}
     }},
    {"data": {"name": "punkte"},
     "transform": [
      {"filter": "datum.p == 'L' && datum.b == 'Brache'"},
      {"bin": {"step": 3, "extent": [76, 148], "nice": false}, "field": "y", "as": "zeile"},
      {"window": [{"op": "row_number", "as": "rn"}], "groupby": ["zeile"]},
      {"joinaggregate": [{"op": "count", "as": "n"}], "groupby": ["zeile"]},
      {"calculate": "17.6 + (datum.rn - (datum.n + 1) / 2) * 3.46", "as": "xs"}
     ],
     "mark": {"type": "circle", "size": 80, "opacity": 1},
     "encoding": {
      "x": {"field": "xs", "type": "quantitative", "title": null},
      "y": {"field": "y", "type": "quantitative", "title": "Silomaisertrag rel. %", "axis": {"orient": "left", "values": [80, 100, 120, 140]}},
      "color": {"field": "b", "type": "nominal", "title": "Behandlung", "scale": {"domain": ["Reinsaat", "Mischung", "Brache"], "range": ["#8DC63F", "#2B95D0", "#B9914F"]}, "legend": {"orient": "none", "legendX": 662, "legendY": 705}}
     }},
    {"data": {"name": "kennwerte"}, "transform": [{"filter": "datum.p == 'L'"}],
     "mark": {"type": "rule", "color": "#333333", "strokeWidth": 2.5},
     "encoding": {"x": {"datum": 0}, "x2": {"datum": 58.6}, "y": {"datum": 77.13}}},
    {"data": {"name": "kennwerte"}, "transform": [{"filter": "datum.p == 'L'"}],
     "mark": {"type": "rule", "color": "#333333", "strokeWidth": 2.5},
     "encoding": {"x": {"datum": 76.9}, "x2": {"datum": 100}, "y": {"datum": 77.13}}},
    {"data": {"name": "kennwerte"}, "transform": [{"filter": "datum.p == 'L'"}],
     "mark": {"type": "rect", "fill": "white", "stroke": "#A6A6A6", "strokeWidth": 11, "cornerRadius": 6},
     "encoding": {"x": {"datum": 53.92}, "x2": {"datum": 98.21}, "y": {"datum": 142.14}, "y2": {"datum": 127.72}}},
    {"data": {"name": "kennwerte"}, "transform": [{"filter": "datum.p == 'L'"}],
     "mark": {"type": "rect", "fill": "white", "stroke": "#00913F", "strokeWidth": 11, "cornerRadius": 6},
     "encoding": {"x": {"datum": 53.92}, "x2": {"datum": 98.21}, "y": {"datum": 126.02}, "y2": {"datum": 122.03}}},
    {"data": {"name": "kennwerte"}, "transform": [{"filter": "datum.p == 'L'"}],
     "mark": {"type": "text", "font": "Liberation Sans", "fontSize": 29, "lineHeight": 37, "align": "center", "baseline": "middle", "color": "#1a1a1a"},
     "encoding": {"x": {"datum": 76.0}, "y": {"datum": 140.1}, "text": {"field": "titel"}}},
    {"data": {"name": "kennwerte"}, "transform": [{"filter": "datum.p == 'L'"}],
     "mark": {"type": "text", "font": "Liberation Sans", "fontSize": 25, "lineHeight": 34.5, "align": "center", "baseline": "middle", "color": "#1a1a1a"},
     "encoding": {"x": {"datum": 76.0}, "y": {"datum": 134.71}, "text": {"field": "info"}}},
    {"data": {"name": "kennwerte"}, "transform": [{"filter": "datum.p == 'L'"}],
     "mark": {"type": "text", "font": "Liberation Sans", "fontSize": 26, "align": "center", "baseline": "middle", "color": "#FF0000"},
     "encoding": {"x": {"datum": 76.0}, "y": {"datum": 124.06}, "text": {"field": "effekt"}}}
   ]},
   {"layer": [
    {"data": {"name": "dichte"},
     "transform": [{"filter": "datum.p == 'L'"}, {"calculate": "88.5 + datum.d * 9.57", "as": "xd"}],
     "mark": {"type": "area", "orient": "horizontal", "interpolate": "monotone", "fill": "#BFBFBF", "stroke": "#555555", "strokeWidth": 1.2},
     "encoding": {
      "x": {"field": "xd", "type": "quantitative", "title": null},
      "x2": {"datum": 88.5},
      "y": {"field": "diff", "type": "quantitative", "title": "Mittelwertdifferen", "scale": {"domain": [-22.87, 42.87], "nice": false, "zero": false}, "axis": {"orient": "right", "values": [-20, 0, 20, 40], "labelExpr": "replace(datum.label, '−', '-')"}}
     }},
    {"data": {"name": "kennwerte"}, "transform": [{"filter": "datum.p == 'L'"}],
     "mark": {"type": "rule", "color": "black", "strokeWidth": 2.6},
     "encoding": {"x": {"datum": 17.6}, "x2": {"datum": 100}, "y": {"datum": 0}}},
    {"data": {"name": "kennwerte"}, "transform": [{"filter": "datum.p == 'L'"}],
     "mark": {"type": "rule", "color": "black", "strokeWidth": 2.6},
     "encoding": {"x": {"datum": 47.1}, "x2": {"datum": 100}, "y": {"field": "diff", "type": "quantitative", "title": "Mittelwertdifferen", "axis": {"orient": "right", "values": [-20, 0, 20, 40], "labelExpr": "replace(datum.label, '−', '-')"}}}},
    {"data": {"name": "kennwerte"}, "transform": [{"filter": "datum.p == 'L'"}],
     "mark": {"type": "rule", "color": "black", "strokeWidth": 4.5},
     "encoding": {"x": {"datum": 88.5}, "y": {"field": "ci_lo", "type": "quantitative", "title": "Mittelwertdifferen", "axis": {"orient": "right", "values": [-20, 0, 20, 40], "labelExpr": "replace(datum.label, '−', '-')"}}, "y2": {"field": "ci_hi"}}},
    {"data": {"name": "kennwerte"}, "transform": [{"filter": "datum.p == 'L'"}],
     "mark": {"type": "circle", "color": "black", "size": 450, "opacity": 1},
     "encoding": {"x": {"datum": 88.5}, "y": {"field": "diff", "type": "quantitative", "title": "Mittelwertdifferen", "axis": {"orient": "right", "values": [-20, 0, 20, 40], "labelExpr": "replace(datum.label, '−', '-')"}}}}
   ]}
  ]
 },
 {
  "width": 867, "height": 890,
  "resolve": {"scale": {"y": "independent"}},
  "layer": [
   {"layer": [
    {"data": {"name": "punkte"},
     "transform": [
      {"filter": "datum.p == 'R' && datum.b != 'Brache'"},
      {"bin": {"step": 1, "extent": [76, 146], "nice": false}, "field": "y", "as": "zeile"},
      {"window": [{"op": "row_number", "as": "rn"}], "groupby": ["zeile"]},
      {"joinaggregate": [{"op": "count", "as": "n"}], "groupby": ["zeile"]},
      {"calculate": "47.1 + (datum.rn - (datum.n + 1) / 2) * 1.096", "as": "xs"}
     ],
     "mark": {"type": "circle", "size": 110, "opacity": 0.92},
     "encoding": {
      "x": {"field": "xs", "type": "quantitative", "title": null, "scale": {"domain": [0, 100], "nice": false, "zero": false}, "axis": {"orient": "bottom", "values": [17.6, 47.1, 88.5], "labelExpr": "datum.value < 30 ? ['Brache', 'N = 12'] : datum.value < 60 ? ['Zwischenfrucht', 'N = 372'] : ['Zwischenfrucht', 'minus Brache']"}},
      "y": {"field": "y", "type": "quantitative", "title": "Silomaisertrag rel. %", "scale": {"domain": [77.13, 142.87], "nice": false, "zero": false}, "axis": {"orient": "left", "values": [80, 100, 120, 140]}},
      "color": {"field": "b", "type": "nominal", "title": "Behandlung", "scale": {"domain": ["Reinsaat", "Mischung", "Brache"], "range": ["#8DC63F", "#2B95D0", "#B9914F"]}, "legend": {"orient": "none", "legendX": 662, "legendY": 705}}
     }},
    {"data": {"name": "punkte"},
     "transform": [
      {"filter": "datum.p == 'R' && datum.b == 'Brache'"},
      {"bin": {"step": 3, "extent": [76, 148], "nice": false}, "field": "y", "as": "zeile"},
      {"window": [{"op": "row_number", "as": "rn"}], "groupby": ["zeile"]},
      {"joinaggregate": [{"op": "count", "as": "n"}], "groupby": ["zeile"]},
      {"calculate": "17.6 + (datum.rn - (datum.n + 1) / 2) * 6.9", "as": "xs"}
     ],
     "mark": {"type": "circle", "size": 80, "opacity": 1},
     "encoding": {
      "x": {"field": "xs", "type": "quantitative", "title": null},
      "y": {"field": "y", "type": "quantitative", "title": "Silomaisertrag rel. %", "axis": {"orient": "left", "values": [80, 100, 120, 140]}},
      "color": {"field": "b", "type": "nominal", "title": "Behandlung", "scale": {"domain": ["Reinsaat", "Mischung", "Brache"], "range": ["#8DC63F", "#2B95D0", "#B9914F"]}, "legend": {"orient": "none", "legendX": 662, "legendY": 705}}
     }},
    {"data": {"name": "kennwerte"}, "transform": [{"filter": "datum.p == 'R'"}],
     "mark": {"type": "rule", "color": "#333333", "strokeWidth": 2.5},
     "encoding": {"x": {"datum": 0}, "x2": {"datum": 58.6}, "y": {"datum": 77.13}}},
    {"data": {"name": "kennwerte"}, "transform": [{"filter": "datum.p == 'R'"}],
     "mark": {"type": "rule", "color": "#333333", "strokeWidth": 2.5},
     "encoding": {"x": {"datum": 76.9}, "x2": {"datum": 100}, "y": {"datum": 77.13}}},
    {"data": {"name": "kennwerte"}, "transform": [{"filter": "datum.p == 'R'"}],
     "mark": {"type": "rect", "fill": "white", "stroke": "#A6A6A6", "strokeWidth": 11, "cornerRadius": 6},
     "encoding": {"x": {"datum": 54.38}, "x2": {"datum": 98.21}, "y": {"datum": 142.4}, "y2": {"datum": 127.95}}},
    {"data": {"name": "kennwerte"}, "transform": [{"filter": "datum.p == 'R'"}],
     "mark": {"type": "rect", "fill": "white", "stroke": "#00913F", "strokeWidth": 11, "cornerRadius": 6},
     "encoding": {"x": {"datum": 54.38}, "x2": {"datum": 98.21}, "y": {"datum": 126.54}, "y2": {"datum": 122.33}}},
    {"data": {"name": "kennwerte"}, "transform": [{"filter": "datum.p == 'R'"}],
     "mark": {"type": "text", "font": "Liberation Sans", "fontSize": 29, "lineHeight": 37, "align": "center", "baseline": "middle", "color": "#1a1a1a"},
     "encoding": {"x": {"datum": 76.0}, "y": {"datum": 140.4}, "text": {"field": "titel"}}},
    {"data": {"name": "kennwerte"}, "transform": [{"filter": "datum.p == 'R'"}],
     "mark": {"type": "text", "font": "Liberation Sans", "fontSize": 25, "lineHeight": 34.5, "align": "center", "baseline": "middle", "color": "#1a1a1a"},
     "encoding": {"x": {"datum": 76.0}, "y": {"datum": 135.0}, "text": {"field": "info"}}},
    {"data": {"name": "kennwerte"}, "transform": [{"filter": "datum.p == 'R'"}],
     "mark": {"type": "text", "font": "Liberation Sans", "fontSize": 26, "align": "center", "baseline": "middle", "color": "#FF0000"},
     "encoding": {"x": {"datum": 76.0}, "y": {"datum": 124.28}, "text": {"field": "effekt"}}}
   ]},
   {"layer": [
    {"data": {"name": "dichte"},
     "transform": [{"filter": "datum.p == 'R'"}, {"calculate": "88.5 + datum.d * 9.57", "as": "xd"}],
     "mark": {"type": "area", "orient": "horizontal", "interpolate": "monotone", "fill": "#BFBFBF", "stroke": "#555555", "strokeWidth": 1.2},
     "encoding": {
      "x": {"field": "xd", "type": "quantitative", "title": null},
      "x2": {"datum": 88.5},
      "y": {"field": "diff", "type": "quantitative", "title": "Mittelwertdifferenz", "scale": {"domain": [-22.87, 42.87], "nice": false, "zero": false}, "axis": {"orient": "right", "values": [-20, 0, 20, 40], "labelExpr": "replace(datum.label, '−', '-')"}}
     }},
    {"data": {"name": "kennwerte"}, "transform": [{"filter": "datum.p == 'R'"}],
     "mark": {"type": "rule", "color": "black", "strokeWidth": 2.6},
     "encoding": {"x": {"datum": 17.6}, "x2": {"datum": 100}, "y": {"datum": 0}}},
    {"data": {"name": "kennwerte"}, "transform": [{"filter": "datum.p == 'R'"}],
     "mark": {"type": "rule", "color": "black", "strokeWidth": 2.6},
     "encoding": {"x": {"datum": 47.1}, "x2": {"datum": 100}, "y": {"field": "diff", "type": "quantitative", "title": "Mittelwertdifferenz", "axis": {"orient": "right", "values": [-20, 0, 20, 40], "labelExpr": "replace(datum.label, '−', '-')"}}}},
    {"data": {"name": "kennwerte"}, "transform": [{"filter": "datum.p == 'R'"}],
     "mark": {"type": "rule", "color": "black", "strokeWidth": 4.5},
     "encoding": {"x": {"datum": 88.5}, "y": {"field": "ci_lo", "type": "quantitative", "title": "Mittelwertdifferenz", "axis": {"orient": "right", "values": [-20, 0, 20, 40], "labelExpr": "replace(datum.label, '−', '-')"}}, "y2": {"field": "ci_hi"}}},
    {"data": {"name": "kennwerte"}, "transform": [{"filter": "datum.p == 'R'"}],
     "mark": {"type": "circle", "color": "black", "size": 450, "opacity": 1},
     "encoding": {"x": {"datum": 88.5}, "y": {"field": "diff", "type": "quantitative", "title": "Mittelwertdifferenz", "axis": {"orient": "right", "values": [-20, 0, 20, 40], "labelExpr": "replace(datum.label, '−', '-')"}}}}
   ]}
  ]
 }
],
"resolve": {"legend": {"color": "independent"}}
}
